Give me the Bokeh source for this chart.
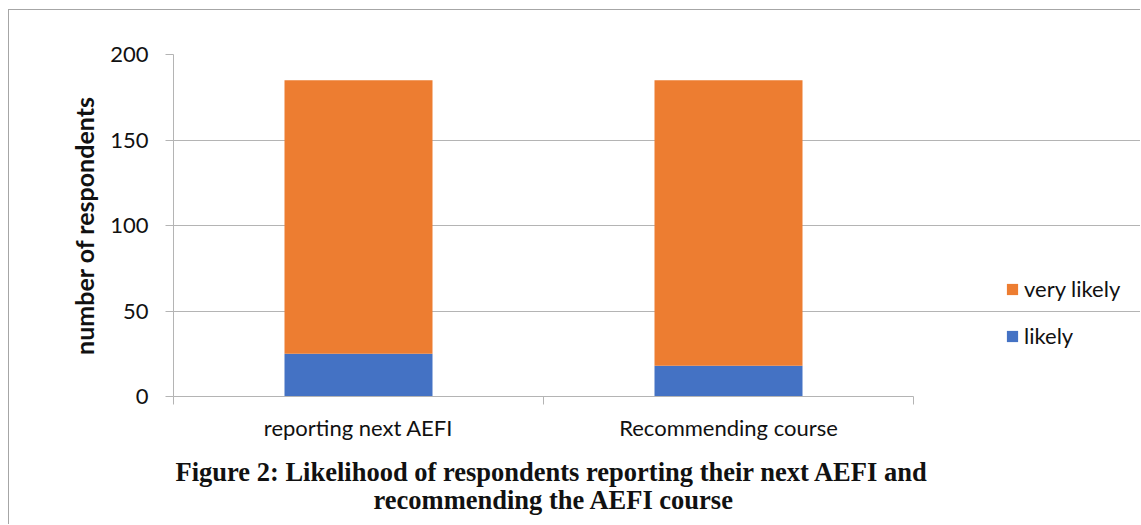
from bokeh.plotting import figure
from bokeh.models import (ColumnDataSource, Range1d, LinearAxis,
                          FixedTicker, Legend, LegendItem, Title)
from bokeh.embed import file_html
from bokeh.resources import INLINE

categories = ["reporting next AEFI", "Recommending course"]
likely = [25, 18]
very_likely = [160, 167]
series_names = ["likely", "very likely"]
series_colors = ["#4472C4", "#ED7D31"]
y_ticks = [0, 50, 100, 150, 200]
y_label = "number of respondents"
caption_lines = ["Figure 2: Likelihood of respondents reporting their next AEFI and",
                 "recommending the AEFI course"]

GREY = "#b4b4b4"
FONT = "Lato"

n = len(categories)
centers = [i + 0.5 for i in range(n)]
bounds = [float(i) for i in range(n + 1)]

# plot area is 740 px for the categories, extended to the right to host the legend
frame_w = 968
cat_w = 740
x_end = n * frame_w / cat_w

source = ColumnDataSource(dict(x=centers, cat=categories, likely=likely, very_likely=very_likely))

p = figure(width=1132, height=515,
           x_range=Range1d(0, x_end),
           y_range=Range1d(0, 200),
           output_backend="svg", toolbar_location=None,
           x_axis_location=None, y_axis_location=None,
           min_border_left=164, min_border_right=0,
           min_border_top=44, min_border_bottom=129)
p.styles = {"margin-left": "8px", "margin-top": "9px",
            "border-left": "1px solid #a6a6a6", "border-top": "1px solid #a6a6a6"}
p.outline_line_color = None
p.background_fill_color = "white"
p.border_fill_color = "white"

rs = p.vbar_stack(["likely", "very_likely"], x="x", width=0.4, source=source,
                  color=series_colors, line_color=None)

# y axis
yax = LinearAxis(ticker=FixedTicker(ticks=y_ticks))
yax.axis_line_color = GREY
yax.major_tick_line_color = GREY
yax.major_tick_out = 8
yax.major_tick_in = 0
yax.minor_tick_line_color = None
yax.major_label_text_font = FONT
yax.major_label_text_font_size = "22px"
yax.major_label_text_color = "#111111"
yax.major_label_standoff = 17
yax.axis_label = y_label
yax.axis_label_text_font = FONT
yax.axis_label_text_font_size = "25px"
yax.axis_label_text_font_style = "bold"
yax.axis_label_text_color = "#111111"
yax.axis_label_standoff = 8
p.add_layout(yax, "left")

p.ygrid.ticker = FixedTicker(ticks=y_ticks)
p.ygrid.grid_line_color = GREY
p.ygrid.bounds = (0, n)
p.xgrid.grid_line_color = None

# x axis: labels at category centres, ticks at category boundaries
xax = LinearAxis(ticker=FixedTicker(ticks=centers, minor_ticks=bounds), bounds=(0, n))
xax.major_label_overrides = {c: lab for c, lab in zip(centers, categories)}
xax.axis_line_color = GREY
xax.major_tick_line_color = None
xax.minor_tick_line_color = GREY
xax.minor_tick_out = 8
xax.minor_tick_in = 0
xax.major_label_text_font = FONT
xax.major_label_text_font_size = "22px"
xax.major_label_text_color = "#111111"
xax.major_label_standoff = 9
# invisible spacer between the category labels and the caption
xax.axis_label = " "
xax.axis_label_text_font_size = "1px"
xax.axis_label_standoff = 7
p.add_layout(xax, "below")

# caption lines as titles below the axis
cap_offsets = [2, 200]
cap_standoffs = [0, -8]
for line, off, so in zip(caption_lines, cap_offsets, cap_standoffs):
    t = Title(text=line, align="left", offset=off, text_font="Liberation Serif",
              text_font_style="bold", text_font_size="26.5px", text_color="#111111",
              standoff=so)
    p.add_layout(t, "below")

legend = Legend(items=[LegendItem(label=series_names[1], renderers=[rs[1]]),
                       LegendItem(label=series_names[0], renderers=[rs[0]])],
                location=(832, 47))
legend.label_text_font = FONT
legend.label_text_font_size = "22px"
legend.label_text_color = "#111111"
legend.glyph_width = 14
legend.glyph_height = 14
legend.label_height = 22
legend.spacing = 20
legend.padding = 0
legend.margin = 0
legend.border_line_color = None
legend.background_fill_alpha = 0
legend.label_standoff = 5
p.add_layout(legend)

open("out.html", "w").write(file_html(p, INLINE))
